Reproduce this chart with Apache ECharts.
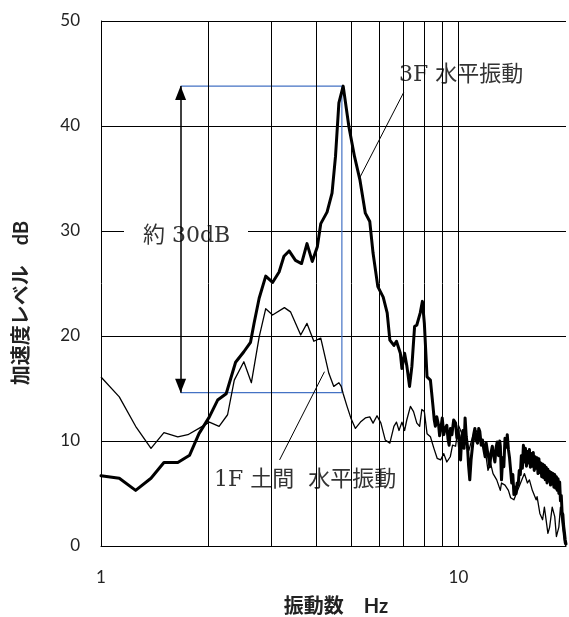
<!DOCTYPE html>
<html>
<head>
<meta charset="utf-8">
<script src="https://cdn.jsdelivr.net/npm/echarts@6/dist/echarts.min.js"></script>
<style>
  html, body { margin: 0; padding: 0; background: #fff; }
  #chart { width: 569px; height: 617px; }
</style>
</head>
<body>
<div id="chart"></div>
<script>
// 3F 水平振動 (thick line) : frequency [Hz] / level [dB]
const freq3F = [1.00, 1.125, 1.25, 1.38, 1.50, 1.64, 1.77, 1.88, 2.01, 2.12, 2.24, 2.38, 2.51, 2.62, 2.68, 2.77, 2.89, 3.02, 3.15, 3.25,
  3.36, 3.50, 3.64, 3.77, 3.90, 4.03, 4.12, 4.29, 4.43, 4.53, 4.63, 4.76, 4.94, 5.12, 5.30, 5.49, 5.65, 5.77, 5.95, 6.16,
  6.32, 6.43, 6.60, 6.71, 6.88, 6.95, 7.07, 7.17, 7.30, 7.41, 7.54, 7.65, 7.82, 7.93, 8.03, 8.17, 8.35, 8.49, 8.56, 8.62,
  8.70, 8.81, 8.86, 8.92, 9.01, 9.10, 9.18, 9.28, 9.35, 9.42, 9.50, 9.59, 9.70, 9.82, 9.90, 9.99, 10.06, 10.14, 10.22, 10.30,
  10.37, 10.44, 10.52, 10.60, 10.68, 10.76, 10.85, 10.95, 11.03, 11.12, 11.20, 11.31, 11.40, 11.48, 11.58, 11.68, 11.78, 11.88, 11.96, 12.05,
  12.15, 12.24, 12.34, 12.44, 12.55, 12.65, 12.75, 12.84, 12.95, 13.05, 13.10, 13.20, 13.30, 13.40, 13.50, 13.60, 13.70, 13.80, 13.90, 14.00,
  14.10, 14.20, 14.30, 14.40, 14.50, 14.60, 14.70, 14.80, 14.90, 15.00, 15.10, 15.20, 15.30, 15.40, 15.50, 15.60, 15.70, 15.80, 15.90, 16.00,
  16.10, 16.20, 16.30, 16.40, 16.50, 16.60, 16.70, 16.80, 16.90, 17.00, 17.10, 17.20, 17.30, 17.40, 17.50, 17.60, 17.70, 17.80, 17.90, 18.00,
  18.10, 18.20, 18.30, 18.40, 18.50, 18.60, 18.70, 18.80, 18.90, 19.00, 19.10, 19.20, 19.30, 19.40, 19.50, 19.60, 19.70, 19.80, 19.90, 20.00];
const level3F = [6.7, 6.45, 5.3, 6.45, 7.95, 7.95, 8.65, 10.7, 12.3, 13.9, 14.5, 17.5, 18.5, 19.4, 21.2, 23.6, 25.7, 25.1, 26.1, 27.6,
  28.1, 27.2, 26.9, 28.8, 27.1, 28.5, 30.7, 31.8, 33.6, 37.1, 42.2, 43.8, 39.9, 37.1, 34.9, 31.7, 30.9, 27.9, 24.7, 23.7,
  22.2, 19.6, 19.1, 19.5, 18.35, 16.9, 18.35, 17.2, 15.2, 17.1, 20.9, 21.05, 22.2, 23.3, 21.2, 16.1, 15.8, 13.3, 12.0, 11.4,
  12.3, 11.4, 10.5, 11.05, 12.2, 10.6, 11.2, 11.5, 10.2, 9.6, 11.2, 10.6, 12.0, 11.7, 10.3, 11.0, 9.5, 8.2, 10.5, 11.0,
  9.3, 12.2, 10.4, 9.5, 7.6, 6.3, 8.2, 9.5, 10.6, 11.2, 10.1, 9.8, 11.2, 10.9, 9.6, 10.1, 9.2, 8.5, 9.8, 9.1,
  8.4, 7.55, 8.9, 9.5, 8.6, 8.0, 9.4, 9.9, 8.6, 10.0, 9.5, 6.3, 8.4, 7.55, 10.25, 9.4, 10.6, 9.2, 8.4, 7.2,
  6.0, 6.8, 4.9, 5.6, 5.0, 6.0, 5.8, 7.2, 6.8, 8.6, 7.4, 9.6, 8.0, 9.3, 7.6, 9.0, 7.9, 9.2, 7.5, 8.8,
  7.6, 8.9, 7.2, 8.5, 7.4, 8.4, 6.9, 8.3, 7.0, 7.9, 6.6, 7.8, 6.5, 7.7, 6.3, 7.5, 6.0, 7.3, 6.2, 7.1,
  5.8, 7.0, 5.9, 6.9, 5.6, 6.8, 5.5, 6.6, 5.3, 6.4, 5.0, 6.1, 4.3, 4.8, 3.2, 3.0, 1.9, 1.3, 0.6, 0.2];

// 1F 土間 水平振動 (thin line)
const freq1F = [1.00, 1.125, 1.25, 1.38, 1.50, 1.64, 1.75, 1.90, 2.01, 2.14, 2.26, 2.36, 2.51, 2.635, 2.77, 2.89, 3.02, 3.26, 3.39, 3.62,
  3.77, 3.94, 4.12, 4.34, 4.48, 4.63, 4.70, 4.76, 4.88, 5.00, 5.15, 5.32, 5.49, 5.65, 5.77, 5.92, 6.07, 6.24, 6.43, 6.60,
  6.71, 6.82, 6.95, 7.07, 7.17, 7.34, 7.49, 7.65, 7.79, 7.90, 8.03, 8.17, 8.35, 8.54, 8.72, 8.92, 9.10, 9.28, 9.49, 9.63,
  9.82, 10.0, 10.23, 10.5, 10.7, 10.95, 11.2, 11.4, 11.68, 11.92, 12.1, 12.3, 12.5, 12.8, 13.1, 13.2, 13.5, 13.8, 14.0, 14.3,
  14.6, 15.0, 15.3, 15.6, 15.8, 16.1, 16.5, 16.6, 16.9, 17.2, 17.4, 17.8, 18.0, 18.3, 18.6, 18.8, 19.1, 19.3, 19.5, 19.8,
  20.0];
const level1F = [16.1, 14.2, 11.4, 9.3, 10.8, 10.4, 10.6, 11.3, 11.8, 11.4, 12.5, 15.8, 17.55, 15.55, 19.9, 22.6, 22.0, 22.7, 22.3, 20.1,
  21.2, 19.5, 19.8, 16.45, 15.2, 15.55, 15.2, 14.5, 13.3, 12.2, 11.2, 11.8, 12.2, 12.3, 11.7, 12.4, 11.7, 10.1, 9.8, 11.4,
  11.8, 11.0, 11.8, 11.0, 12.0, 13.3, 12.8, 11.7, 11.4, 13.0, 12.8, 10.7, 10.4, 9.3, 8.35, 8.2, 8.8, 8.0, 8.5, 9.6,
  9.5, 11.5, 10.7, 10.1, 9.1, 10.4, 11.0, 10.6, 9.5, 8.8, 7.2, 7.9, 6.9, 6.3, 5.3, 6.0, 5.8, 5.3, 4.6, 4.4,
  5.2, 6.2, 6.9, 6.0, 6.3, 5.3, 4.4, 4.7, 3.1, 2.5, 3.7, 1.2, 1.8, 3.7, 2.8, 0.9, 1.8, 3.7, 2.2, 0.3,
  0.0];

// log-axis gridlines and labelled ticks
const gridFreqs = [2, 3, 4, 5, 6, 7, 8, 9, 10];
const xTickLabels = [1, 10];

// 約30dB bracket (peak of 3F vs. 1F at the same frequency)
const bracketFreq = 1.67;
const peakFreq = 4.72;
const peakLevel = 43.8;
const floorLevel = 14.6;

// leader lines from the labels to the curves
const leader3F = [[7.03, 43.2], [5.30, 35.1]];
const leader1F = [[3.16, 8.2], [4.22, 16.6]];

const chart = echarts.init(document.getElementById('chart'));
const pairs = (xs, ys) => xs.map((x, i) => [x, ys[i]]);
const sans = 'Lato, "Noto Sans CJK JP", sans-serif';
const serifFont = '22px "DejaVu Serif", "Noto Sans CJK JP", serif';

const option = {
  animation: false,
  grid: { left: 101, right: 0, top: 21, bottom: 71 },
  xAxis: {
    type: 'log',
    logBase: 10,
    min: 1,
    max: 20,
    axisLine: { lineStyle: { color: '#000', width: 1 } },
    axisTick: { show: false },
    splitLine: { show: false },
    axisLabel: {
      color: '#222',
      fontFamily: sans,
      fontSize: 17,
      margin: 23,
      formatter: (v) => (xTickLabels.includes(Math.round(v)) ? String(Math.round(v)) : '')
    }
  },
  yAxis: {
    type: 'value',
    min: 0,
    max: 50,
    interval: 10,
    axisLine: { show: true, lineStyle: { color: '#000', width: 1 } },
    axisTick: { show: false },
    splitLine: { lineStyle: { color: '#000', width: 1 } },
    axisLabel: { color: '#222', fontFamily: sans, fontSize: 17, margin: 21 }
  },
  series: [
    {
      // vertical log gridlines
      type: 'line',
      data: [],
      z: 1,
      silent: true,
      markLine: {
        silent: true,
        symbol: 'none',
        label: { show: false },
        lineStyle: { color: '#000', width: 1, type: 'solid' },
        data: gridFreqs.map((f) => ({ xAxis: f }))
      }
    },
    {
      name: '1F 土間 水平振動',
      type: 'line',
      data: pairs(freq1F, level1F),
      showSymbol: false,
      z: 5,
      lineStyle: { color: '#000', width: 1.3, join: 'round' }
    },
    {
      name: '3F 水平振動',
      type: 'line',
      data: pairs(freq3F, level3F),
      showSymbol: false,
      z: 6,
      lineStyle: { color: '#000', width: 3, join: 'round', cap: 'round' }
    },
    {
      // blue bracket
      type: 'line',
      data: [[bracketFreq, peakLevel], [peakFreq, peakLevel], [peakFreq, floorLevel], [bracketFreq, floorLevel]],
      showSymbol: false,
      z: 4,
      lineStyle: { color: '#4472C4', width: 1.2 }
    },
    {
      // arrow + leader lines
      type: 'line',
      data: [],
      z: 7,
      markLine: {
        silent: true,
        label: { show: false },
        symbol: 'none',
        lineStyle: { color: '#000', width: 1, type: 'solid' },
        data: [
          [
            { coord: [bracketFreq, floorLevel], symbol: 'triangle', symbolSize: [11, 14], symbolOffset: [0, 7] },
            { coord: [bracketFreq, peakLevel], symbol: 'triangle', symbolSize: [11, 14], symbolOffset: [0, 7],
              lineStyle: { width: 1.5 } }
          ],
          [{ coord: leader3F[0] }, { coord: leader3F[1] }],
          [{ coord: leader1F[0] }, { coord: leader1F[1] }]
        ]
      }
    }
  ],
  graphic: [
    { type: 'rect', z: 3, shape: { x: 368, y: 22, width: 165, height: 70 }, style: { fill: '#fff' } },
    { type: 'text', z: 3, x: 399, y: 75,
      style: { text: '3F 水平振動', font: serifFont, fill: '#333', textVerticalAlign: 'middle', verticalAlign: 'middle' } },
    { type: 'rect', z: 3, shape: { x: 124, y: 207, width: 124, height: 53 }, style: { fill: '#fff' } },
    { type: 'text', z: 3, x: 143, y: 236,
      style: { text: '約 30dB', font: serifFont, fill: '#333', textVerticalAlign: 'middle', verticalAlign: 'middle' } },
    { type: 'rect', z: 3, shape: { x: 203, y: 460, width: 212, height: 38 }, style: { fill: '#fff' } },
    { type: 'text', z: 3, x: 214, y: 480,
      style: { text: '1F 土間  水平振動', font: serifFont, fill: '#333', textVerticalAlign: 'middle', verticalAlign: 'middle' } },
    { type: 'text', z: 3, x: 22, y: 303, rotation: Math.PI / 2,
      style: { text: '加速度レベル　dB', font: 'bold 20px ' + sans, fill: '#222',
        textAlign: 'center', align: 'center', textVerticalAlign: 'middle', verticalAlign: 'middle' } },
    { type: 'text', z: 3, x: 336, y: 607,
      style: { text: '振動数　Hz', font: 'bold 20px ' + sans, fill: '#222',
        textAlign: 'center', align: 'center', textVerticalAlign: 'middle', verticalAlign: 'middle' } }
  ]
};

chart.setOption(option);
</script>
</body>
</html>
